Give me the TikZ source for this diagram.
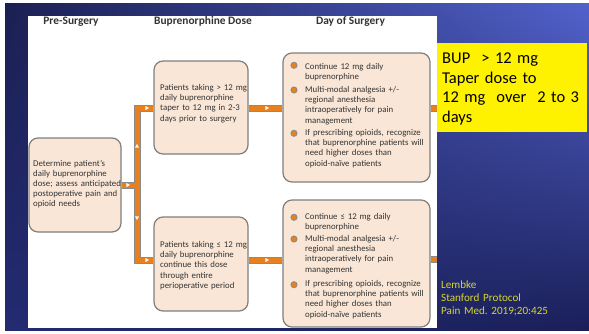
\documentclass[tikz,border=0pt]{standalone}
\usepackage{fontspec}
\setmainfont{Carlito}
\usetikzlibrary{shadings}
\frenchspacing
\definecolor{bgA}{HTML}{1B2052}
\definecolor{bgB}{HTML}{5262CC}
\definecolor{bgC}{HTML}{232B72}
\definecolor{bgD}{HTML}{1A1F58}
\definecolor{boxfill}{HTML}{F9E6D6}
\definecolor{boxline}{HTML}{7F7F7F}
\definecolor{txtgray}{HTML}{333333}
\definecolor{pipeor}{HTML}{E8801E}
\definecolor{pipegray}{HTML}{8A8A8A}
\definecolor{refyel}{HTML}{D6D62A}
\pgfdeclarelayer{bglayer}
\pgfdeclarelayer{pipelayer}
\pgfsetlayers{bglayer,pipelayer,main}
\begin{document}
\begin{tikzpicture}[x=1pt,y=-1pt,
  box/.style={draw=boxline, line width=1.2pt, fill=boxfill, rounded corners=9pt, inner sep=0pt},
  txt/.style={font=\fontsize{8.8}{10.2}\selectfont, text=txtgray, inner sep=0pt, align=left, anchor=base west},
  head/.style={font=\fontsize{11.4}{13}\selectfont\bfseries, text=txtgray, inner sep=0pt, anchor=base},
  bul/.style={circle, draw=pipegray, fill=pipeor, line width=0.8pt, minimum size=6.2pt, inner sep=0pt},
  pipeO/.style={draw=pipegray, line width=7pt},
  pipeI/.style={draw=pipeor, line width=5pt},
  tri/.style={fill=white}
]
\useasboundingbox (0,0) rectangle (589,333);
\begin{pgfonlayer}{bglayer}
\fill[white] (0,0) rectangle (589,333);
\shade[upper left=bgA, upper right=bgB, lower left=bgC, lower right=bgD] (5,3) rectangle (589,330);
\fill[white] (28,16) rectangle (437,328);
\end{pgfonlayer}

% headers
\node[head] (h1) at (71,24) {Pre-Surgery};
\node[head] (h2) at (203,24) {Buprenorphine Dose};
\node[head] (h3) at (350.5,24) {Day of Surgery};

% boxes
\node[box, minimum width=92pt, minimum height=94pt] (L) at (75,185) {};
\node[box, minimum width=94pt, minimum height=93pt] (T) at (201,107.5) {};
\node[box, minimum width=94pt, minimum height=94pt] (B) at (201,264) {};
\node[box, minimum width=147pt, minimum height=129pt] (RT) at (356.5,117.5) {};
\node[box, minimum width=147pt, minimum height=127pt] (RB) at (356.5,263.5) {};

% box texts
\node[txt, text width=100pt] (Lt) at (33,166) {Determine patient’s\\daily buprenorphine\\dose; assess anticipated\\postoperative pain and\\opioid needs};
\node[txt, text width=100pt] (Tt) at (160,90.5) {Patients taking > 12 mg\\daily buprenorphine\\taper to 12 mg in 2-3\\days prior to surgery};
\node[txt, text width=100pt] (Bt) at (160,247.5) {Patients taking ≤ 12 mg\\daily buprenorphine\\continue this dose\\through entire\\perioperative period};

% bullets top right
\node[bul] (tb1) at (294,65.3) {};
\node[bul] (tb2) at (294,90) {};
\node[bul] (tb3) at (294,133.3) {};
\node[txt, text width=140pt] (tt1) at (305,69) {Continue 12 mg daily\\buprenorphine};
\node[txt, text width=140pt] (tt2) at (305,92.5) {Multi-modal analgesia +/-\\regional anesthesia\\intraoperatively for pain\\management};
\node[txt, text width=140pt] (tt3) at (305,135.5) {If prescribing opioids, recognize\\that buprenorphine patients will\\need higher doses than\\opioid-naïve patients};

% bullets bottom right
\node[bul] (bb1) at (294,217.3) {};
\node[bul] (bb2) at (294,239) {};
\node[bul] (bb3) at (294,284.7) {};
\node[txt, text width=140pt] (bt1) at (305,219.5) {Continue ≤ 12 mg daily\\buprenorphine};
\node[txt, text width=140pt] (bt2) at (305,241.5) {Multi-modal analgesia +/-\\regional anesthesia\\intraoperatively for pain\\management};
\node[txt, text width=140pt] (bt3) at (305,286.5) {If prescribing opioids, recognize\\that buprenorphine patients will\\need higher doses than\\opioid-naïve patients};

% pipe junctions
\coordinate (jm) at (137,185);
\coordinate (jt) at (137,108);
\coordinate (jb) at (137,260);
\coordinate (ot) at (437,108);
\coordinate (ob) at (437,259);

\begin{pgfonlayer}{pipelayer}
\draw[pipeO] (L.east |- jm) -- (jm)
  (T.west |- jt) -- (jt) -- (jb) -- (B.west |- jb)
  (T.east |- jt) -- (RT.west |- jt)
  (B.east |- jb) -- (RB.west |- jb)
  (RT.east |- ot) -- (ot)
  (RB.east |- ob) -- (ob);
\draw[pipeI] (L.east |- jm) -- (jm)
  (T.west |- jt) -- (jt) -- (jb) -- (B.west |- jb)
  (T.east |- jt) -- (RT.west |- jt)
  (B.east |- jb) -- (RB.west |- jb)
  (RT.east |- ot) -- (ot)
  (RB.east |- ob) -- (ob);
\end{pgfonlayer}

% small white arrowheads
\fill[tri, shift={(128,185)}] (-1.6,-2) -- (2,0) -- (-1.6,2) -- cycle;
\fill[tri, shift={(147,108)}] (-1.6,-2) -- (2,0) -- (-1.6,2) -- cycle;
\fill[tri, shift={(147,260)}] (-1.6,-2) -- (2,0) -- (-1.6,2) -- cycle;
\fill[tri, shift={(267,108)}] (-1.6,-2) -- (2,0) -- (-1.6,2) -- cycle;
\fill[tri, shift={(267,260)}] (-1.6,-2) -- (2,0) -- (-1.6,2) -- cycle;
\fill[tri, shift={(137,146)}] (-2,1.6) -- (0,-2) -- (2,1.6) -- cycle;
\fill[tri, shift={(137,218)}] (-2,-1.6) -- (0,2) -- (2,-1.6) -- cycle;

% yellow note
\node[fill=yellow, minimum width=150pt, minimum height=89pt, inner sep=0pt] (Y) at (512,87.5) {};
\node[font=\fontsize{16.5}{19.8}\selectfont, text=black, inner sep=0pt, align=left, anchor=base west, text width=145pt] (Yt) at (442,63.3) {BUP\ \ > 12 mg\\Taper dose to\\12 mg\ \ over\ \ 2 to 3\\days};

% reference
\node[font=\fontsize{11.1}{13}\selectfont, text=refyel, inner sep=0pt, align=left, anchor=base west, text width=140pt] (ref) at (441,288.7) {Lembke\\Stanford Protocol\\Pain Med. 2019;20:425};
\end{tikzpicture}
\end{document}
